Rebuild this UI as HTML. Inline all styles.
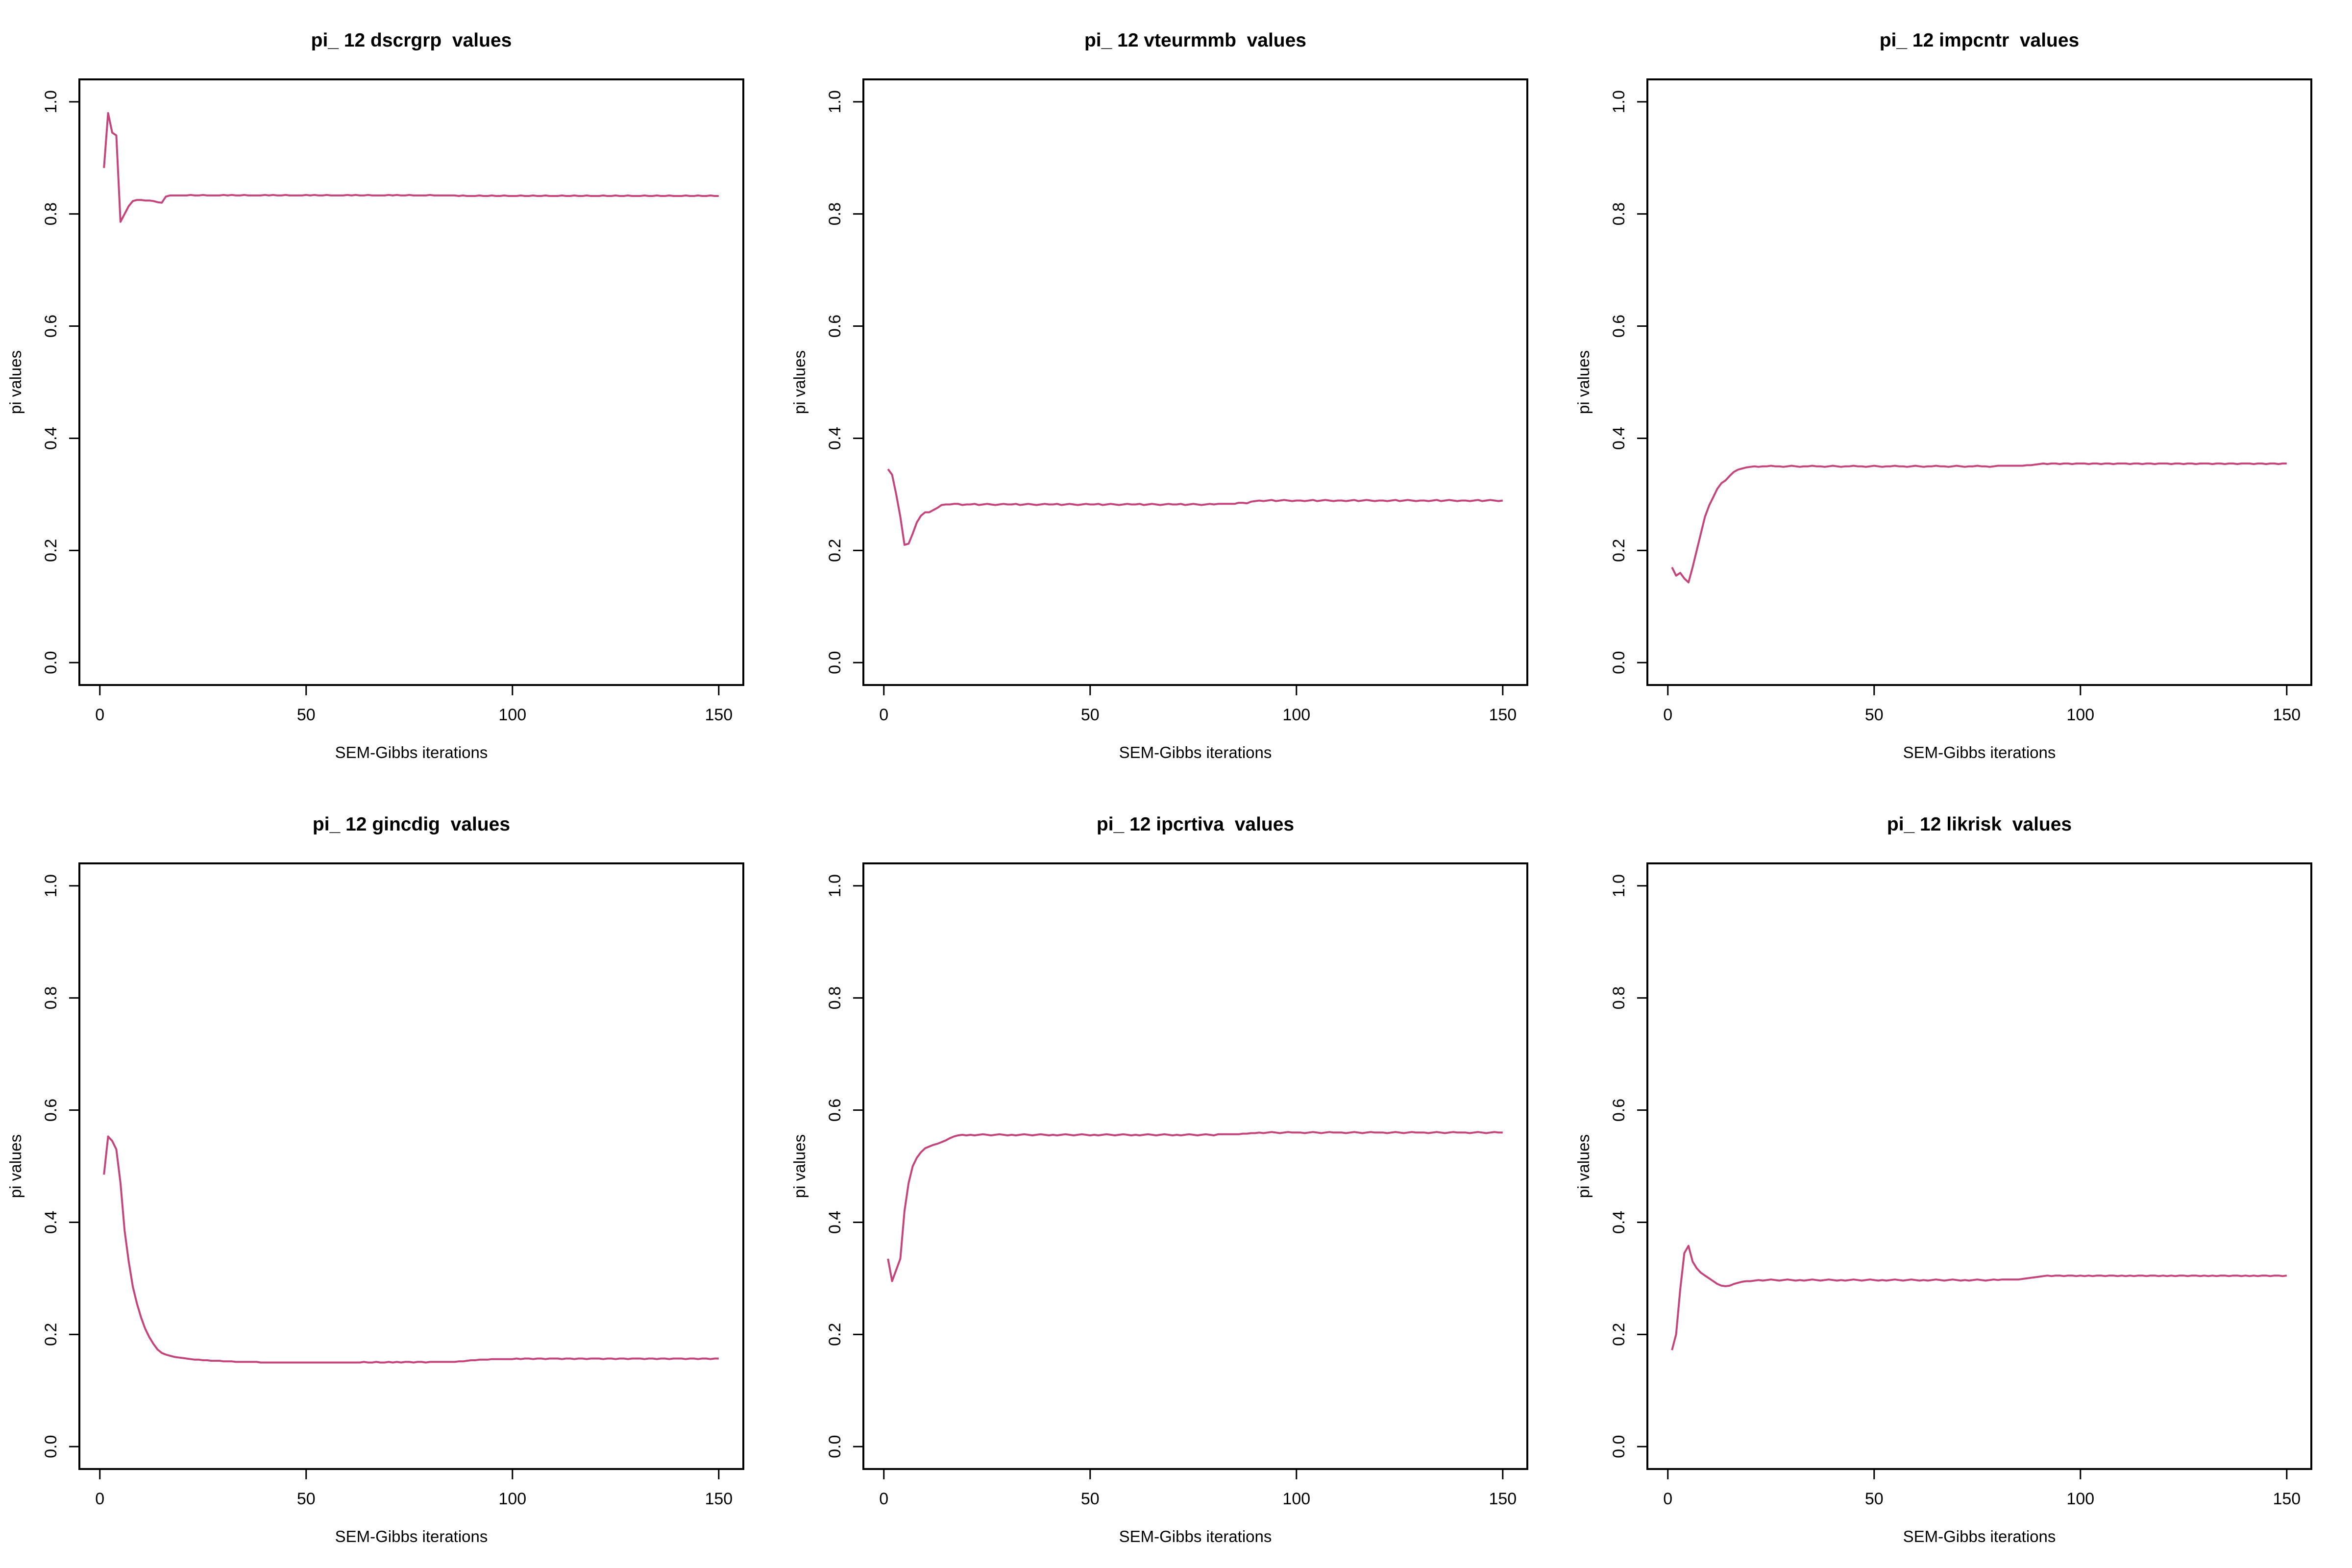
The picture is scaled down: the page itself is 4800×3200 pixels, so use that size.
<!DOCTYPE html>
<html><head><meta charset="utf-8">
<style>
html,body{margin:0;padding:0;background:#fff;}
svg{display:block;}
text{font-family:"Liberation Sans",Arial,sans-serif;fill:#000;white-space:pre;}
</style></head>
<body>
<svg id="chart" width="4800" height="3200" viewBox="0 0 4800 3200" xmlns="http://www.w3.org/2000/svg"></svg>
<script>
const panelTitles = ["pi_ 12 dscrgrp  values","pi_ 12 vteurmmb  values","pi_ 12 impcntr  values","pi_ 12 gincdig  values","pi_ 12 ipcrtiva  values","pi_ 12 likrisk  values"];
const xTicks = [0,50,100,150];
const yTicks = [0.0,0.2,0.4,0.6,0.8,1.0];
const yTickLabels = ["0.0","0.2","0.4","0.6","0.8","1.0"];

const seriesDscrgrp = [
0.882,0.980,0.945,0.940,0.786,0.800,0.814,0.823,0.825,0.825,
0.824,0.824,0.823,0.821,0.820,0.831,0.833,0.833,0.833,0.833,
0.833,0.834,0.833,0.833,0.834,0.833,0.833,0.833,0.833,0.834,
0.833,0.834,0.833,0.833,0.834,0.833,0.833,0.833,0.833,0.834,
0.833,0.834,0.833,0.833,0.834,0.833,0.833,0.833,0.833,0.834,
0.833,0.834,0.833,0.833,0.834,0.833,0.833,0.833,0.833,0.834,
0.833,0.834,0.833,0.833,0.834,0.833,0.833,0.833,0.833,0.834,
0.833,0.834,0.833,0.833,0.834,0.833,0.833,0.833,0.833,0.834,
0.833,0.833,0.833,0.833,0.833,0.833,0.832,0.833,0.832,0.832,
0.832,0.833,0.832,0.832,0.833,0.832,0.832,0.833,0.832,0.832,
0.832,0.833,0.832,0.832,0.833,0.832,0.832,0.833,0.832,0.832,
0.832,0.833,0.832,0.832,0.833,0.832,0.832,0.833,0.832,0.832,
0.832,0.833,0.832,0.832,0.833,0.832,0.832,0.833,0.832,0.832,
0.832,0.833,0.832,0.832,0.833,0.832,0.832,0.833,0.832,0.832,
0.832,0.833,0.832,0.832,0.833,0.832,0.832,0.833,0.832,0.832];

const seriesVteurmmb = [
0.345,0.335,0.300,0.260,0.210,0.212,0.230,0.250,0.262,0.268,
0.268,0.272,0.276,0.281,0.282,0.282,0.283,0.283,0.281,0.282,
0.282,0.283,0.281,0.282,0.283,0.282,0.281,0.282,0.283,0.282,
0.282,0.283,0.281,0.282,0.283,0.282,0.281,0.282,0.283,0.282,
0.282,0.283,0.281,0.282,0.283,0.282,0.281,0.282,0.283,0.282,
0.282,0.283,0.281,0.282,0.283,0.282,0.281,0.282,0.283,0.282,
0.282,0.283,0.281,0.282,0.283,0.282,0.281,0.282,0.283,0.282,
0.282,0.283,0.281,0.282,0.283,0.282,0.281,0.282,0.283,0.282,
0.283,0.283,0.283,0.283,0.283,0.285,0.285,0.284,0.287,0.288,
0.289,0.288,0.289,0.290,0.288,0.289,0.290,0.289,0.288,0.289,
0.289,0.288,0.289,0.290,0.288,0.289,0.290,0.289,0.288,0.289,
0.289,0.288,0.289,0.290,0.288,0.289,0.290,0.289,0.288,0.289,
0.289,0.288,0.289,0.290,0.288,0.289,0.290,0.289,0.288,0.289,
0.289,0.288,0.289,0.290,0.288,0.289,0.290,0.289,0.288,0.289,
0.289,0.288,0.289,0.290,0.288,0.289,0.290,0.289,0.288,0.289];

const seriesImpcntr = [
0.170,0.155,0.160,0.150,0.143,0.170,0.200,0.230,0.260,0.280,
0.295,0.310,0.320,0.325,0.333,0.340,0.344,0.346,0.348,0.349,
0.350,0.349,0.350,0.350,0.351,0.350,0.350,0.349,0.350,0.351,
0.350,0.349,0.350,0.350,0.351,0.350,0.350,0.349,0.350,0.351,
0.350,0.349,0.350,0.350,0.351,0.350,0.350,0.349,0.350,0.351,
0.350,0.349,0.350,0.350,0.351,0.350,0.350,0.349,0.350,0.351,
0.350,0.349,0.350,0.350,0.351,0.350,0.350,0.349,0.350,0.351,
0.350,0.349,0.350,0.350,0.351,0.350,0.350,0.349,0.350,0.351,
0.351,0.351,0.351,0.351,0.351,0.351,0.352,0.352,0.353,0.354,
0.355,0.354,0.355,0.355,0.354,0.355,0.355,0.354,0.355,0.355,
0.355,0.354,0.355,0.355,0.354,0.355,0.355,0.354,0.355,0.355,
0.355,0.354,0.355,0.355,0.354,0.355,0.355,0.354,0.355,0.355,
0.355,0.354,0.355,0.355,0.354,0.355,0.355,0.354,0.355,0.355,
0.355,0.354,0.355,0.355,0.354,0.355,0.355,0.354,0.355,0.355,
0.355,0.354,0.355,0.355,0.354,0.355,0.355,0.354,0.355,0.355];

const seriesGincdig = [
0.485,0.553,0.545,0.530,0.470,0.385,0.330,0.285,0.255,0.230,
0.210,0.195,0.183,0.173,0.167,0.164,0.162,0.160,0.159,0.158,
0.157,0.156,0.155,0.155,0.154,0.154,0.153,0.153,0.153,0.152,
0.152,0.152,0.151,0.151,0.151,0.151,0.151,0.151,0.150,0.150,
0.150,0.150,0.150,0.150,0.150,0.150,0.150,0.150,0.150,0.150,
0.150,0.150,0.150,0.150,0.150,0.150,0.150,0.150,0.150,0.150,
0.150,0.150,0.150,0.151,0.150,0.150,0.151,0.150,0.150,0.151,
0.150,0.151,0.150,0.151,0.151,0.150,0.151,0.151,0.150,0.151,
0.151,0.151,0.151,0.151,0.151,0.151,0.152,0.152,0.153,0.154,
0.154,0.155,0.155,0.155,0.156,0.156,0.156,0.156,0.156,0.156,
0.157,0.156,0.157,0.157,0.156,0.157,0.157,0.156,0.157,0.157,
0.157,0.156,0.157,0.157,0.156,0.157,0.157,0.156,0.157,0.157,
0.157,0.156,0.157,0.157,0.156,0.157,0.157,0.156,0.157,0.157,
0.157,0.156,0.157,0.157,0.156,0.157,0.157,0.156,0.157,0.157,
0.157,0.156,0.157,0.157,0.156,0.157,0.157,0.156,0.157,0.157];

const seriesIpcrtiva = [
0.335,0.295,0.315,0.335,0.420,0.470,0.500,0.515,0.525,0.532,
0.535,0.538,0.540,0.543,0.546,0.550,0.553,0.555,0.556,0.555,
0.556,0.555,0.556,0.557,0.556,0.555,0.556,0.557,0.556,0.555,
0.556,0.555,0.556,0.557,0.556,0.555,0.556,0.557,0.556,0.555,
0.556,0.555,0.556,0.557,0.556,0.555,0.556,0.557,0.556,0.555,
0.556,0.555,0.556,0.557,0.556,0.555,0.556,0.557,0.556,0.555,
0.556,0.555,0.556,0.557,0.556,0.555,0.556,0.557,0.556,0.555,
0.556,0.555,0.556,0.557,0.556,0.555,0.556,0.557,0.556,0.555,
0.557,0.557,0.557,0.557,0.557,0.557,0.558,0.558,0.559,0.559,
0.560,0.559,0.560,0.561,0.560,0.559,0.560,0.561,0.560,0.560,
0.560,0.559,0.560,0.561,0.560,0.559,0.560,0.561,0.560,0.560,
0.560,0.559,0.560,0.561,0.560,0.559,0.560,0.561,0.560,0.560,
0.560,0.559,0.560,0.561,0.560,0.559,0.560,0.561,0.560,0.560,
0.560,0.559,0.560,0.561,0.560,0.559,0.560,0.561,0.560,0.560,
0.560,0.559,0.560,0.561,0.560,0.559,0.560,0.561,0.560,0.560];

const seriesLikrisk = [
0.172,0.200,0.280,0.345,0.358,0.330,0.318,0.310,0.305,0.300,
0.295,0.290,0.287,0.286,0.287,0.290,0.292,0.294,0.295,0.295,
0.296,0.297,0.296,0.297,0.298,0.297,0.296,0.297,0.298,0.297,
0.296,0.297,0.296,0.297,0.298,0.297,0.296,0.297,0.298,0.297,
0.296,0.297,0.296,0.297,0.298,0.297,0.296,0.297,0.298,0.297,
0.296,0.297,0.296,0.297,0.298,0.297,0.296,0.297,0.298,0.297,
0.296,0.297,0.296,0.297,0.298,0.297,0.296,0.297,0.298,0.297,
0.296,0.297,0.296,0.297,0.298,0.297,0.296,0.297,0.298,0.297,
0.298,0.298,0.298,0.298,0.298,0.299,0.300,0.301,0.302,0.303,
0.304,0.305,0.304,0.305,0.305,0.304,0.305,0.305,0.304,0.305,
0.304,0.305,0.304,0.305,0.305,0.304,0.305,0.305,0.304,0.305,
0.304,0.305,0.304,0.305,0.305,0.304,0.305,0.305,0.304,0.305,
0.304,0.305,0.304,0.305,0.305,0.304,0.305,0.305,0.304,0.305,
0.304,0.305,0.304,0.305,0.305,0.304,0.305,0.305,0.304,0.305,
0.304,0.305,0.304,0.305,0.305,0.304,0.305,0.305,0.304,0.305];

const allSeries = [seriesDscrgrp, seriesVteurmmb, seriesImpcntr, seriesGincdig, seriesIpcrtiva, seriesLikrisk];
const panelNames = ["dscrgrp","vteurmmb","impcntr","gincdig","ipcrtiva","likrisk"];

const NS = "http://www.w3.org/2000/svg";
const svg = document.getElementById("chart");
function mk(tag, attrs, parent){
  const e = document.createElementNS(NS, tag);
  for (const k in attrs) e.setAttribute(k, attrs[k]);
  (parent||svg).appendChild(e);
  return e;
}

allSeries.forEach(function(vals, p){
  const ox = (p % 3) * 1600, oy = Math.floor(p / 3) * 1600;
  const L = ox + 162, R = ox + 1517, T = oy + 162, B = oy + 1398;
  const n = vals.length;
  const xmin = 1, xmax = n, xpad = (xmax - xmin) * 0.04;
  const ymin = 0, ymax = 1, ypad = (ymax - ymin) * 0.04;
  const xs = v => L + (v - (xmin - xpad)) / ((xmax + xpad) - (xmin - xpad)) * (R - L);
  const ys = v => B - (v - (ymin - ypad)) / ((ymax + ypad) - (ymin - ypad)) * (B - T);

  const g = mk("g", {});
  
  

  const title = mk("text", {x:(L+R)/2, y:oy+95, "text-anchor":"middle", "font-size":39, "font-weight":"bold"}, g);
  title.textContent = panelTitles[p];
  
  

  let d = "";
  vals.forEach(function(v, i){ d += (i ? "L" : "M") + xs(i + 1).toFixed(1) + "," + ys(v).toFixed(1); });
  const line = mk("path", {d:d, fill:"none", stroke:"#c4457b", "stroke-width":4, "stroke-linejoin":"round"}, g);
  
  

  const box = mk("rect", {x:L, y:T, width:R-L, height:B-T, fill:"none", stroke:"#000", "stroke-width":4}, g);
  
  

  const xa = mk("g", {}, g);
  
  
  mk("line", {x1:xs(xTicks[0]), x2:xs(xTicks[xTicks.length-1]), y1:B, y2:B, stroke:"#000", "stroke-width":3}, xa);
  xTicks.forEach(function(t){
    mk("line", {x1:xs(t), x2:xs(t), y1:B, y2:B+21, stroke:"#000", "stroke-width":3}, xa);
    const tl = mk("text", {x:xs(t), y:oy+1470, "text-anchor":"middle", "font-size":34}, xa);
    tl.textContent = String(t);
    
    
  });
  const xl = mk("text", {x:(L+R)/2, y:oy+1547, "text-anchor":"middle", "font-size":33}, g);
  xl.textContent = "SEM-Gibbs iterations";
  
  

  const ya = mk("g", {}, g);
  
  
  mk("line", {x1:L, x2:L, y1:ys(yTicks[0]), y2:ys(yTicks[yTicks.length-1]), stroke:"#000", "stroke-width":3}, ya);
  yTicks.forEach(function(t, i){
    const y = ys(t);
    mk("line", {x1:L-21, x2:L, y1:y, y2:y, stroke:"#000", "stroke-width":3}, ya);
    const tl = mk("text", {x:0, y:0, "text-anchor":"middle", "font-size":34, transform:"translate(" + (ox+115) + "," + y + ") rotate(-90)"}, ya);
    tl.textContent = yTickLabels[i];
    
    
  });
  const yl = mk("text", {x:0, y:0, "text-anchor":"middle", "font-size":33, transform:"translate(" + (ox+43) + "," + ((T+B)/2) + ") rotate(-90)"}, g);
  yl.textContent = "pi values";
  
  
});
</script>
</body></html>
